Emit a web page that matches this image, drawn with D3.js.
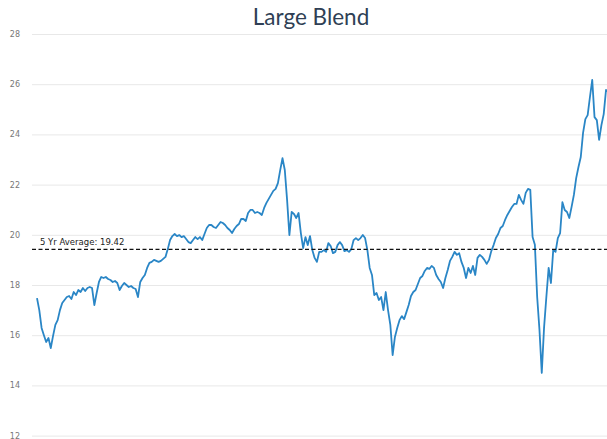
<!DOCTYPE html>
<html>
<head>
<meta charset="utf-8">
<script src="https://cdn.jsdelivr.net/npm/d3@7"></script>
<style>
  body { margin: 0; background: #fff; }
  svg { display: block; }
</style>
</head>
<body>
<div id="chart"></div>
<script>
// Large Blend P/E, weekly readings (first week starts 2016-01-06)
var pe2016 = [
  17.48, 17.0, 16.29, 16.0, 15.73, 15.89, 15.49, 15.97, 16.41, 16.6,
  17.0, 17.28, 17.4, 17.52, 17.56, 17.44, 17.72, 17.6, 17.8, 17.72,
  17.88, 17.76, 17.88, 17.92, 17.88, 17.2, 17.68, 18.12, 18.32, 18.28,
  18.32, 18.24, 18.2, 18.12, 18.16, 18.08, 17.8, 17.96, 18.08, 18.0,
  17.92, 17.96, 17.88, 17.84, 17.52, 18.12, 18.28, 18.4, 18.68, 18.88,
  18.92, 19.0
];
var pe2017 = [
  18.96, 18.92, 18.96, 19.04, 19.12, 19.43, 19.79, 19.95, 20.03, 19.95,
  19.99, 19.91, 19.95, 19.83, 19.71, 19.67, 19.79, 19.91, 19.83, 19.91,
  19.79, 20.03, 20.27, 20.39, 20.39, 20.31, 20.27, 20.39, 20.51, 20.47,
  20.39, 20.27, 20.19, 20.07, 20.23, 20.35, 20.43, 20.63, 20.63, 20.55,
  20.87, 20.99, 20.99, 20.87, 20.91, 20.87, 20.79, 21.07, 21.27, 21.43,
  21.59, 21.75
];
var pe2018 = [
  21.83, 22.06, 22.58, 23.05, 22.58, 21.39, 19.99, 20.91, 20.83, 20.67,
  20.87, 20.07, 19.47, 19.91, 19.59, 19.95, 19.39, 19.08, 18.92, 19.32,
  19.32, 19.39, 19.32, 19.67, 19.55, 19.27, 19.32, 19.59, 19.71, 19.59,
  19.35, 19.39, 19.32, 19.43, 19.79, 19.87, 19.79, 19.87, 19.99, 19.87,
  19.39, 18.68, 18.4, 17.6, 17.68, 17.4, 17.52, 17.0, 17.72, 17.0,
  16.41, 15.21
];
var pe2019 = [
  15.93, 16.29, 16.6, 16.76, 16.64, 16.92, 17.2, 17.56, 17.72, 17.8,
  18.04, 18.28, 18.36, 18.56, 18.68, 18.64, 18.76, 18.68, 18.4, 18.24,
  18.12, 17.88, 18.28, 18.6, 18.96, 19.12, 19.32, 19.2, 19.27, 18.92,
  18.68, 18.28, 18.68, 18.48, 18.76, 18.4, 19.08, 19.2, 19.12, 19.0,
  18.84, 19.0, 19.35, 19.59, 19.87, 20.03, 20.27, 20.35, 20.59, 20.79,
  20.95, 21.11
];
var pe2020 = [
  21.23, 21.23, 21.59, 21.39, 21.23, 21.67, 21.83, 21.79, 19.91, 19.6,
  17.52, 16.21, 14.5, 16.3, 17.52, 18.68, 18.08, 19.39, 19.32, 19.87,
  20.07, 21.3, 20.99, 20.91, 20.67, 21.11, 21.59, 22.26, 22.7, 23.1,
  24.06, 24.61, 24.77, 25.49, 26.17, 24.69, 24.57, 23.78, 24.37, 24.81,
  25.77, 25.69
];

var startDate = new Date(2016, 0, 6);
var avgValue = 19.42;
var yTicks = [12, 14, 16, 18, 20, 22, 24, 26, 28];
var chartTitle = "Large Blend";

var values = pe2016.concat(pe2017, pe2018, pe2019, pe2020);
var series = values.map(function(v, i) {
  return { date: d3.timeDay.offset(startDate, i * 7), value: v };
});

var width = 607;
var height = 439;
var gridLeft = 32;
var plotTop = 34;
var plotBottom = 435.6;

var svg = d3.select("#chart")
  .append("svg")
  .attr("width", width)
  .attr("height", height);

var xScale = d3.scaleTime()
  .domain([startDate, series[series.length - 1].date])
  .range([37, 608.3]);

var yScale = d3.scaleLinear()
  .domain([12, 28])
  .range([plotBottom, plotTop]);

// title
svg.append("text")
  .attr("x", 311)
  .attr("y", 25)
  .attr("text-anchor", "middle")
  .style("font-family", "Lato, 'Open Sans', sans-serif")
  .style("font-size", "22.5px")
  .style("fill", "#2f3f55")
  .text(chartTitle);

// y axis with gridlines
var yAxis = d3.axisLeft(yScale)
  .tickValues(yTicks)
  .tickSize(-(width - gridLeft))
  .tickPadding(12)
  .tickFormat(d3.format("d"));

var yG = svg.append("g")
  .attr("transform", "translate(" + gridLeft + ",0)")
  .call(yAxis);
yG.select(".domain").remove();
yG.selectAll(".tick line")
  .attr("stroke", "#e8e8e8")
  .attr("stroke-width", 1);
yG.selectAll(".tick text")
  .style("font-family", "'DejaVu Sans', sans-serif")
  .style("font-size", "8px")
  .style("fill", "#777");

// line
var line = d3.line()
  .x(function(d) { return xScale(d.date); })
  .y(function(d) { return yScale(d.value); });

svg.append("path")
  .datum(series)
  .attr("fill", "none")
  .attr("stroke", "#2a86c6")
  .attr("stroke-width", 1.8)
  .attr("stroke-linejoin", "round")
  .attr("d", line);

// 5 yr average
svg.append("line")
  .attr("x1", gridLeft)
  .attr("x2", width)
  .attr("y1", yScale(avgValue))
  .attr("y2", yScale(avgValue))
  .attr("stroke", "#111")
  .attr("stroke-width", 1.4)
  .attr("stroke-dasharray", "4,2.5");

svg.append("text")
  .attr("x", 40)
  .attr("y", yScale(avgValue) - 4)
  .style("font-family", "'DejaVu Sans', sans-serif")
  .style("font-size", "8.5px")
  .style("fill", "#222")
  .text("5 Yr Average: " + avgValue);
</script>
</body>
</html>
